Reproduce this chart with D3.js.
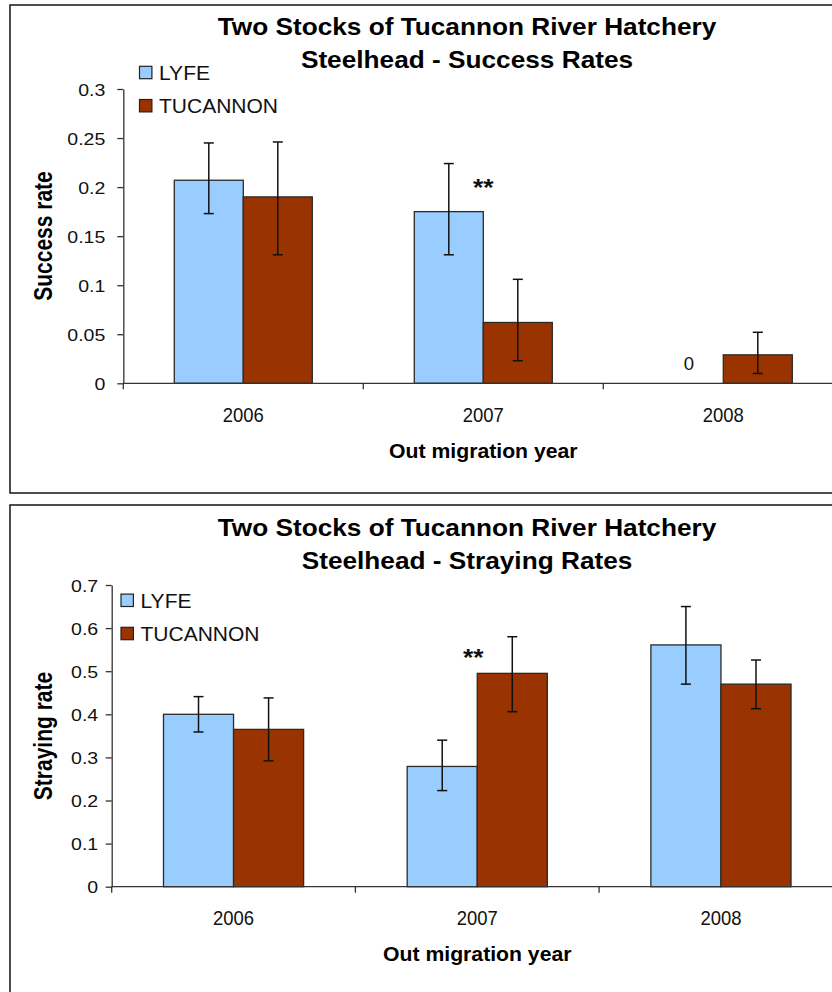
<!DOCTYPE html>
<html>
<head>
<meta charset="utf-8">
<script src="https://cdn.jsdelivr.net/npm/d3@7"></script>
<style>
  html, body { margin: 0; padding: 0; background: #fff; }
  svg { display: block; font-family: "Liberation Sans", Arial, sans-serif; }
</style>
</head>
<body>
<svg id="chart" width="832" height="992"></svg>
<script>
// ---------------- DATA ----------------
const years = ["2006", "2007", "2008"];
const seriesNames = ["LYFE", "TUCANNON"];
const seriesColors = ["#99CCFF", "#993300"];

// Success rates
const successLYFE = [0.207, 0.175, 0];
const successLYFELow = [0.173, 0.131, null];
const successLYFEHigh = [0.245, 0.224, null];
const successTUC = [0.190, 0.062, 0.029];
const successTUCLow = [0.131, 0.023, 0.010];
const successTUCHigh = [0.246, 0.106, 0.052];
const successTicks = [0, 0.05, 0.1, 0.15, 0.2, 0.25, 0.3];
const successNotes = [
  { year: "2007", series: null, text: "**", value: 0.191, bold: true, dx: 0 },
  { year: "2008", series: "LYFE", text: "0", value: 0.014, bold: false }
];

// Straying rates
const strayLYFE = [0.400, 0.279, 0.561];
const strayLYFELow = [0.359, 0.223, 0.470];
const strayLYFEHigh = [0.441, 0.340, 0.650];
const strayTUC = [0.365, 0.495, 0.470];
const strayTUCLow = [0.292, 0.406, 0.413];
const strayTUCHigh = [0.438, 0.580, 0.526];
const strayTicks = [0, 0.1, 0.2, 0.3, 0.4, 0.5, 0.6, 0.7];
const strayNotes = [
  { year: "2007", series: null, text: "**", value: 0.513, bold: true, dx: -4 }
];

// --------------- BUILD ----------------
function rows(vals, lows, highs) {
  return years.map((y, i) => ({ year: y, value: vals[i], low: lows[i], high: highs[i] }));
}

const charts = [
  {
    title: ["Two Stocks of Tucannon River Hatchery", "Steelhead - Success Rates"],
    yLabel: "Success rate",
    xLabel: "Out migration year",
    series: [rows(successLYFE, successLYFELow, successLYFEHigh), rows(successTUC, successTUCLow, successTUCHigh)],
    ticks: successTicks,
    yMax: 0.3,
    notes: successNotes,
    frame: { x: 10, y: 5, w: 840, h: 488 },
    plot: { left: 123.3, right: 843.3, top: 89, bottom: 383.3 },
    tickPad: 12,
    titleY: 35,
    titleX: 467,
    legend: { x: 139.5, y: 72.5 },
    yLabelPos: { x: 52, y: 236 }
  },
  {
    title: ["Two Stocks of Tucannon River Hatchery", "Steelhead - Straying Rates"],
    yLabel: "Straying rate",
    xLabel: "Out migration year",
    series: [rows(strayLYFE, strayLYFELow, strayLYFEHigh), rows(strayTUC, strayTUCLow, strayTUCHigh)],
    ticks: strayTicks,
    yMax: 0.7,
    notes: strayNotes,
    frame: { x: 10, y: 505, w: 840, h: 520 },
    plot: { left: 111.7, right: 842.8, top: 585, bottom: 886.7 },
    tickPad: 7.5,
    titleY: 535.5,
    titleX: 467,
    legend: { x: 121, y: 600.3 },
    yLabelPos: { x: 52, y: 736 }
  }
];

const svg = d3.select("#chart");

function stretchedText(g, x, y, txt, size, sx, opts = {}) {
  return g.append("text")
    .attr("transform", `translate(${x},${y}) scale(${sx},1)` + (opts.rotate ? ` rotate(${opts.rotate})` : ""))
    .attr("text-anchor", opts.anchor || "middle")
    .attr("font-size", size)
    .attr("font-weight", opts.bold ? "bold" : "normal")
    .attr("fill", opts.fill || "#000")
    .text(txt);
}

charts.forEach(c => {
  const g = svg.append("g");

  // frame
  g.append("rect")
    .attr("x", c.frame.x).attr("y", c.frame.y)
    .attr("width", c.frame.w).attr("height", c.frame.h)
    .attr("fill", "#fff").attr("stroke", "#222").attr("stroke-width", 1.6);

  const x = d3.scaleBand().domain(years).range([c.plot.left, c.plot.right]).padding(0);
  const xs = d3.scaleBand().domain(seriesNames).range([0, x.bandwidth()])
    .paddingInner(0).paddingOuter(0.739);
  const y = d3.scaleLinear().domain([0, c.yMax]).range([c.plot.bottom, c.plot.top]);

  // bars
  c.series.forEach((data, si) => {
    const sname = seriesNames[si];
    g.append("g").selectAll("rect")
      .data(data.filter(d => d.value > 0))
      .join("rect")
      .attr("x", d => x(d.year) + xs(sname))
      .attr("y", d => y(d.value))
      .attr("width", xs.bandwidth())
      .attr("height", d => y(0) - y(d.value))
      .attr("fill", seriesColors[si])
      .attr("stroke", "#2a2a2a")
      .attr("stroke-width", 1.3);
  });

  // error bars
  c.series.forEach((data, si) => {
    const sname = seriesNames[si];
    const eg = g.append("g").attr("stroke", "#111").attr("stroke-width", 1.5);
    data.filter(d => d.low != null && d.high != null).forEach(d => {
      const cx = x(d.year) + xs(sname) + xs.bandwidth() / 2;
      eg.append("line").attr("x1", cx).attr("x2", cx).attr("y1", y(d.low)).attr("y2", y(d.high));
      eg.append("line").attr("x1", cx - 5).attr("x2", cx + 5).attr("y1", y(d.low)).attr("y2", y(d.low));
      eg.append("line").attr("x1", cx - 5).attr("x2", cx + 5).attr("y1", y(d.high)).attr("y2", y(d.high));
    });
  });

  // y axis
  const yAxis = g.append("g")
    .attr("transform", `translate(${c.plot.left},0)`)
    .call(d3.axisLeft(y).tickValues(c.ticks).tickFormat(d3.format("")).tickSize(6).tickSizeOuter(0));
  yAxis.select(".domain").attr("stroke", "#333").attr("stroke-width", 1.3);
  yAxis.selectAll(".tick line").attr("stroke", "#333").attr("stroke-width", 1.3);
  const ySx = 1.15;
  yAxis.selectAll(".tick text")
    .attr("font-family", "'Liberation Sans', Arial, sans-serif")
    .attr("font-size", 17)
    .attr("fill", "#111")
    .attr("x", -(6 + c.tickPad) / ySx)
    .attr("dy", "0.36em")
    .attr("transform", `scale(${ySx},1)`);

  // x axis line
  g.append("line")
    .attr("x1", c.plot.left).attr("x2", 840)
    .attr("y1", y(0)).attr("y2", y(0))
    .attr("stroke", "#333").attr("stroke-width", 1.3);
  // boundary ticks
  const bounds = years.map(d => x(d)).concat([x(years[years.length - 1]) + x.bandwidth()]);
  g.append("g").selectAll("line").data(bounds).join("line")
    .attr("x1", d => d).attr("x2", d => d)
    .attr("y1", y(0)).attr("y2", y(0) + 6)
    .attr("stroke", "#333").attr("stroke-width", 1.3);
  // category labels via axis
  const xAxis = g.append("g")
    .attr("transform", `translate(0,${y(0)})`)
    .call(d3.axisBottom(x).tickSize(0).tickPadding(0));
  xAxis.select(".domain").remove();
  const xSx = 0.9;
  xAxis.selectAll(".tick text")
    .attr("font-family", "'Liberation Sans', Arial, sans-serif")
    .attr("font-size", 20.5)
    .attr("fill", "#111")
    .attr("y", 38.3)
    .attr("dy", 0)
    .attr("transform", `scale(${xSx},1)`);

  // notes
  c.notes.forEach(n => {
    let cx;
    if (n.series) cx = x(n.year) + xs(n.series) + xs.bandwidth() / 2;
    else cx = x(n.year) + x.bandwidth() / 2 + (n.dx || 0);
    if (n.bold) stretchedText(g, cx, y(n.value), n.text, 24, 1.1, { bold: true, fill: "#111" });
    else stretchedText(g, cx, y(n.value), n.text, 18.5, 1.0, { fill: "#111" });
  });

  // titles
  c.title.forEach((t, i) => {
    stretchedText(g, c.titleX, c.titleY + i * 33, t, 23, 1.14, { bold: true });
  });

  // x label
  stretchedText(g, (c.plot.left + c.plot.right) / 2, y(0) + 74.5, c.xLabel, 21, 1.01, { bold: true });

  // y label
  stretchedText(g, c.yLabelPos.x, c.yLabelPos.y, c.yLabel, 21, 1.2, { bold: true, rotate: -90 });

  // legend
  const lg = g.append("g");
  seriesNames.forEach((s, i) => {
    const cy = c.legend.y + i * 33.2;
    lg.append("rect")
      .attr("x", c.legend.x).attr("y", cy - 6.2)
      .attr("width", 12.4).attr("height", 12.4)
      .attr("fill", seriesColors[i]).attr("stroke", "#222").attr("stroke-width", 1.2);
    stretchedText(lg, c.legend.x + 19.5, cy + 7.6, s, 21, 1.0, { anchor: "start", fill: "#111" });
  });
});
</script>
</body>
</html>
